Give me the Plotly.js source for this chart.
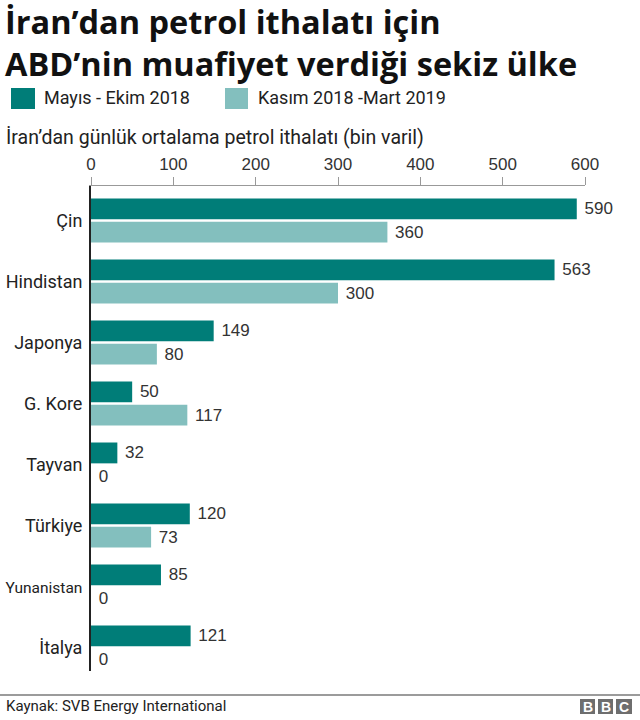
<!DOCTYPE html>
<html>
<head>
<meta charset="utf-8">
<script src="https://cdn.plot.ly/plotly-3.0.1.min.js"></script>
<style>html,body{margin:0;padding:0;background:#fff;}#chart{width:640px;height:720px;}</style>
</head>
<body>
<div id="chart"></div>
<script>
var countries = ["Çin", "Hindistan", "Japonya", "G. Kore", "Tayvan", "Türkiye", "Yunanistan", "İtalya"];
var seriesNames = ["Mayıs - Ekim 2018", "Kasım 2018 -Mart 2019"];
var mayEkim2018 = [590, 563, 149, 50, 32, 120, 85, 121];
var kasim2018Mart2019 = [360, 300, 80, 117, 0, 73, 0, 0];
var xTicks = [0, 100, 200, 300, 400, 500, 600];
var titleLines = ["İran’dan petrol ithalatı için", "ABD’nin muafiyet verdiği sekiz ülke"];

var colors = ["#007d78", "#83bfbe"];
var W = 640, H = 720;
var L = 91, R = 585, T = 186, B = 671;
function px(x) { return (x - L) / (R - L); }
function py(y) { return (B - y) / (B - T); }

var idx = countries.map(function (c, i) { return i; });
var tickText = countries.map(function (c) {
  return c === "Yunanistan" ? '<span style="font-size:15.5px">' + c + '</span>' : c;
});

var numFont = { family: "Liberation Sans, Arial, sans-serif", size: 17, color: "#333" };
var textFont = "Roboto, Noto Sans, sans-serif";

var traces = [mayEkim2018, kasim2018Mart2019].map(function (vals, k) {
  return {
    type: "bar",
    orientation: "h",
    name: seriesNames[k],
    x: vals,
    y: idx,
    marker: { color: colors[k], line: { width: 0 } },
    text: vals.map(function (v) { return " " + v; }),
    textposition: "outside",
    textfont: numFont,
    cliponaxis: false,
    hoverinfo: "none"
  };
});

var shapes = [
  { type: "rect", xref: "paper", yref: "paper", x0: px(11), x1: px(35), y0: py(109), y1: py(88), fillcolor: colors[0], line: { width: 0 } },
  { type: "rect", xref: "paper", yref: "paper", x0: px(225), x1: px(248), y0: py(109), y1: py(88), fillcolor: colors[1], line: { width: 0 } },
  { type: "line", xref: "paper", yref: "paper", x0: px(0), x1: px(640), y0: py(695), y1: py(695), line: { color: "#7a7a7a", width: 1.5 } },
  { type: "rect", xref: "paper", yref: "paper", x0: px(580), x1: px(595), y0: py(714), y1: py(699), fillcolor: "#6e6e6e", line: { width: 0 } },
  { type: "rect", xref: "paper", yref: "paper", x0: px(598), x1: px(613), y0: py(714), y1: py(699), fillcolor: "#6e6e6e", line: { width: 0 } },
  { type: "rect", xref: "paper", yref: "paper", x0: px(616), x1: px(632), y0: py(714), y1: py(699), fillcolor: "#6e6e6e", line: { width: 0 } }
];

function ann(text, x, y, size, opts) {
  var a = {
    text: text, xref: "paper", yref: "paper", x: px(x), y: py(y),
    xanchor: "left", yanchor: "middle", showarrow: false,
    font: { family: textFont, size: size, color: "#222" }
  };
  if (opts) { for (var k in opts) a[k] = opts[k]; }
  return a;
}
var titleFont = { family: "Open Sans, sans-serif", size: 32.5, color: "#111", weight: 700 };
var bbcFont = { family: "Liberation Sans, Arial, sans-serif", size: 14, color: "#fff" };

var annotations = [
  ann("<b>" + titleLines.join("<br>") + "</b>", 3, 43, 32.5, { font: titleFont, align: "left" }),
  ann(seriesNames[0], 42, 98, 18),
  ann(seriesNames[1], 256, 98, 18),
  ann("İran’dan günlük ortalama petrol ithalatı (bin varil)", 4, 138, 19.5),
  ann("Kaynak: SVB Energy International", 4, 706, 15),
  ann("<b>B</b>", 587.5, 707, 14, { xanchor: "center", font: bbcFont }),
  ann("<b>B</b>", 605.5, 707, 14, { xanchor: "center", font: bbcFont }),
  ann("<b>C</b>", 624, 707, 14, { xanchor: "center", font: bbcFont })
];

var layout = {
  width: W, height: H,
  margin: { l: L, r: W - R, t: T, b: H - B, pad: 0 },
  paper_bgcolor: "#fff", plot_bgcolor: "#fff",
  showlegend: false,
  barmode: "group",
  bargap: 0.24,
  bargroupgap: 0.1,
  xaxis: {
    side: "top",
    range: [0, 600],
    tickvals: xTicks,
    ticktext: xTicks.map(String),
    tickfont: numFont,
    showgrid: false,
    zeroline: false,
    showline: true,
    linecolor: "#999",
    linewidth: 1,
    ticks: "outside",
    ticklen: 8,
    tickwidth: 1,
    tickcolor: "#999",
    fixedrange: true
  },
  yaxis: {
    range: [7.385, -0.566],
    tickvals: idx,
    ticktext: tickText,
    tickfont: { family: textFont, size: 18, color: "#222" },
    showgrid: false,
    zeroline: false,
    showline: true,
    linecolor: "#222",
    linewidth: 2,
    ticks: "",
    ticklabelstandoff: 3,
    fixedrange: true
  },
  shapes: shapes,
  annotations: annotations
};

Plotly.newPlot("chart", traces, layout, { staticPlot: true, displayModeBar: false });
</script>
</body>
</html>
